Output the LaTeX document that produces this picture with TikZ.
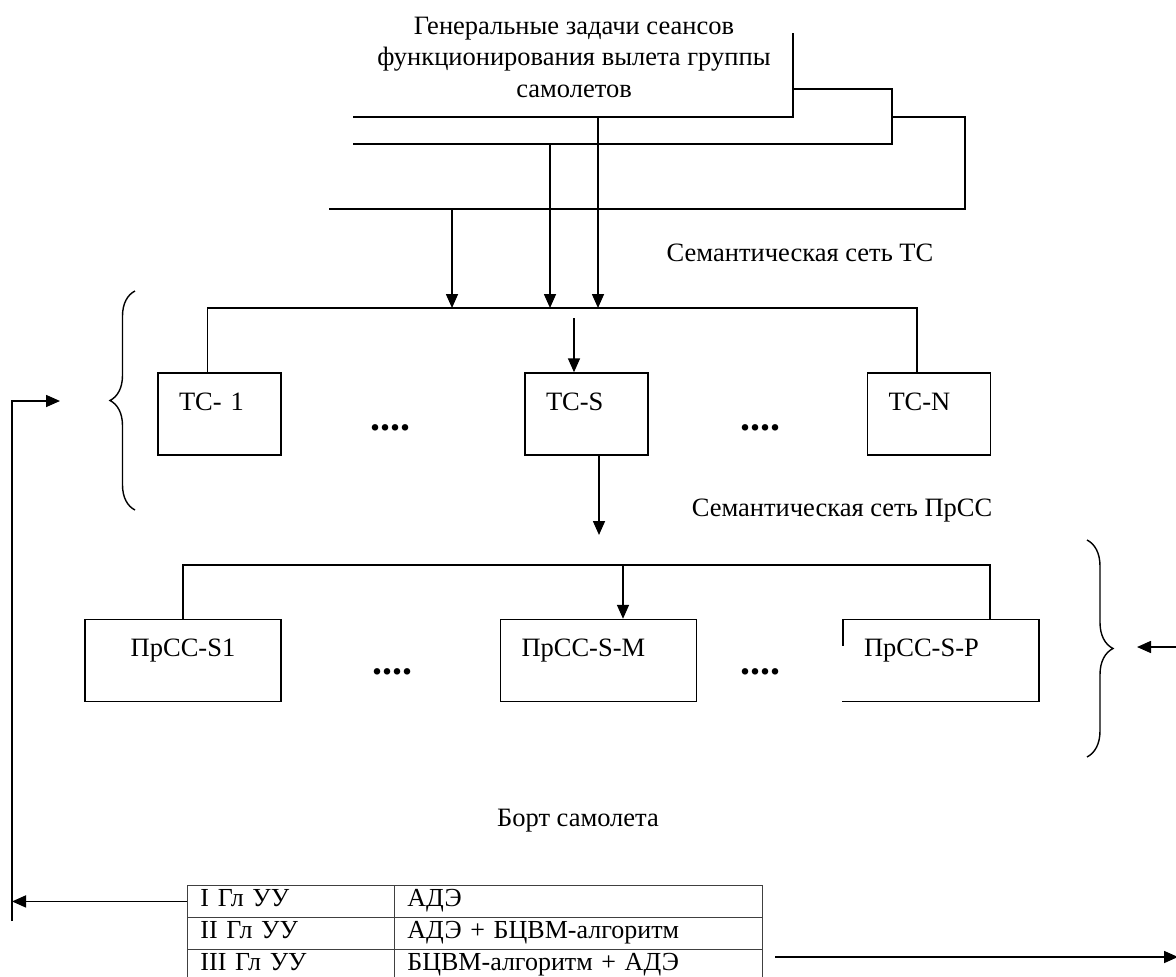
\documentclass[tikz,border=0pt]{standalone}
\usepackage{fontspec}
\setmainfont{Liberation Serif}
\usetikzlibrary{arrows.meta,matrix,decorations.pathreplacing}
\tikzset{
	wire/.style={line width=1.6pt},
	arr/.style={wire,-{Triangle[length=14pt,width=12pt]}},
	box/.style={draw,line width=1.4pt,inner ysep=0pt,inner xsep=21pt,align=left,text height=37pt,text depth=45pt},
	tcbox/.style={box,text width=81pt},
	prbox/.style={box,text width=154pt},
	dots/.style={font=\fontsize{40}{40}\selectfont\bfseries},
	cell/.style={draw=black!75,line width=0.9pt,inner xsep=13pt,inner ysep=0pt,text height=21pt,text depth=11pt,align=left,font=\fontsize{26}{30}\selectfont},
	curly/.style={line width=1.4pt,decorate},
}
\begin{document}
\begin{tikzpicture}[x=1pt,y=-1pt,font=\fontsize{26.5}{31.5}\selectfont]
	\useasboundingbox (0,0) rectangle (1176,977);
	\node[align=center] (goal) at (574,57) {Генеральные задачи сеансов\\функционирования вылета группы\\самолетов};
	\node (tcnet) at (800,253) {Семантическая сеть ТС};
	\node (prnet) at (842,511) {Семантическая сеть ПрСС};
	\node (board) at (578,821) {Борт самолета};
	\node[tcbox] (tc1) at (219.5,414) {ТС- 1};
	\node[tcbox] (tcs) at (586.5,414) {ТС-S};
	\node[tcbox] (tcn) at (929,414) {ТС-N};
	\node[dots] (dotsa) at (390,428) {....};
	\node[dots] (dotsb) at (760,428) {....};
	\node[prbox,align=center] (pr1) at (183,660.5) {ПрСС-S1};
	\node[prbox] (prm) at (598.5,660.5) {ПрСС-S-M};
	\node[prbox] (prp) at (941,660.5) {ПрСС-S-P};
	\node[dots] (dotsc) at (392,672) {....};
	\node[dots] (dotsd) at (760,672) {....};
	\draw[white,line width=2.5pt] ([yshift=-27pt]prp.north west) -- ([yshift=1.5pt]prp.south west);
	\matrix (tbl) [matrix of nodes,ampersand replacement=\&,anchor=north west,inner sep=0pt,outer sep=0pt,
		row sep=-0.9pt,column sep=-0.9pt,nodes={cell},
		column 1/.style={nodes={text width=181pt}},column 2/.style={nodes={text width=342pt}}] at (187,885) {
		I Гл УУ \& АДЭ \\
		II Гл УУ \& АДЭ + БЦВМ-алгоритм \\
		III Гл УУ \& БЦВМ-алгоритм + АДЭ \\
	};
	\coordinate (h1) at (353,117);
	\coordinate (h2) at (353,144);
	\coordinate (h3) at (329,209);
	\coordinate (k1) at (793,33);
	\coordinate (k2) at (892,89);
	\coordinate (k3) at (965,117);
	\coordinate (d1) at (598,308);
	\coordinate (d2) at (550,308);
	\coordinate (d3) at (452,308);
	\draw[wire] (h1) -| (k1);
	\draw[wire] (h2) -| (k2) -- (k2 -| k1);
	\draw[wire] (h3) -| (k3) -- (k3 -| k2);
	\draw[arr] (d1 |- h1) -- (d1);
	\draw[arr] (d2 |- h2) -- (d2);
	\draw[arr] (d3 |- h3) -- (d3);
	\draw[wire] ([xshift=-12pt]tc1.north) |- (d1) -| ([xshift=-12pt]tcn.north);
	\coordinate (sin) at (574,318);
	\draw[arr] (sin) -- (sin |- tcs.north);
	\coordinate (prin) at (599,535);
	\draw[arr] (tcs.south -| prin) -- (prin);
	\coordinate (prbus) at (623,565);
	\draw[wire] (pr1.north) |- (prbus) -| ([xshift=49pt]prp.north);
	\draw[arr] (prbus) -- (prbus |- prm.north);
	\draw[curly,decoration={brace,amplitude=25pt}] (135,510) -- (135,291);
	\draw[curly,decoration={brace,amplitude=26pt}] (1087,540) -- (1087,757);
	\coordinate (lbot) at (12,921);
	\coordinate (lin) at (60,401);
	\draw[arr] (tbl-1-1.west) -- (tbl-1-1.west -| lbot);
	\draw[arr] (lbot) |- (lin);
	\coordinate (rsrc) at (1180,647);
	\coordinate (rin) at (1137,647);
	\draw[arr] (rsrc) -- (rin);
	\coordinate (osrc) at (775,957);
	\coordinate (odst) at (1178,957);
	\draw[arr] (osrc) -- (odst);
\end{tikzpicture}
\end{document}
